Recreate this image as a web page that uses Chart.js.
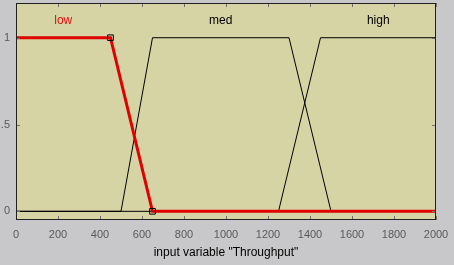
<!DOCTYPE html>
<html>
<head>
<meta charset="utf-8">
<script src="https://cdn.jsdelivr.net/npm/chart.js@4"></script>
<style>
  html, body { margin: 0; padding: 0; background: #c8c8ca; }
  #wrap { width: 454px; height: 265px; }
</style>
</head>
<body>
<div id="wrap"><canvas id="myChart" width="454" height="265"></canvas></div>
<script>
// Funzioni di appartenenza (punti x, y)
const lowX = [0, 450, 650, 2000];
const lowY = [1, 1, 0, 0];
const medX = [0, 500, 650, 1300, 1500, 2000];
const medY = [0, 0, 1, 1, 0, 0];
const highX = [0, 1250, 1450, 2000];
const highY = [0, 0, 1, 1];

// Nomi e posizione delle etichette
const mfNames = ["low", "med", "high"];
const mfLabelX = [225, 975, 1725];
const mfLabelY = 1.1;

// Tick labels
const xTicks = [0, 200, 400, 600, 800, 1000, 1200, 1400, 1600, 1800, 2000];
const yTicks = [0, 0.5, 1];
const yTickLabels = ["0", ".5", "1"];
const xTitle = 'input variable "Throughput"';

function toPoints(xs, ys) {
  return xs.map((x, i) => ({ x: x, y: ys[i] }));
}

// Plugin: sfondo area, bordo, tacche interne ed etichette
const fisPlot = {
  id: "fisPlot",
  beforeDraw(chart) {
    const { ctx, chartArea: a } = chart;
    ctx.save();
    ctx.fillStyle = "#d6d3a4";
    ctx.fillRect(a.left, a.top, a.right - a.left, a.bottom - a.top);
    ctx.restore();
  },
  afterDatasetsDraw(chart) {
    const { ctx, chartArea: a, scales } = chart;
    ctx.save();
    // tacche
    ctx.strokeStyle = "#707070";
    ctx.lineWidth = 1;
    ctx.beginPath();
    xTicks.forEach(v => {
      const px = Math.round(scales.x.getPixelForValue(v)) + 0.5;
      ctx.moveTo(px, a.bottom); ctx.lineTo(px, a.bottom - 4);
      ctx.moveTo(px, a.top); ctx.lineTo(px, a.top + 4);
    });
    yTicks.forEach(v => {
      const py = Math.round(scales.y.getPixelForValue(v)) + 0.5;
      ctx.moveTo(a.left, py); ctx.lineTo(a.left + 4, py);
      ctx.moveTo(a.right, py); ctx.lineTo(a.right - 4, py);
    });
    ctx.stroke();
    // bordo
    ctx.strokeStyle = "#202020";
    ctx.strokeRect(a.left + 0.5, a.top + 0.5, a.right - a.left - 1, a.bottom - a.top - 1);
    // etichette
    ctx.font = "12px 'Liberation Sans', Arial, sans-serif";
    ctx.textAlign = "center";
    ctx.textBaseline = "middle";
    mfNames.forEach((n, i) => {
      ctx.fillStyle = i === 0 ? "#e01010" : "#000000";
      ctx.fillText(n, scales.x.getPixelForValue(mfLabelX[i]), scales.y.getPixelForValue(mfLabelY));
    });
    ctx.restore();
  }
};

const ctx = document.getElementById("myChart");
new Chart(ctx, {
  type: "scatter",
  data: {
    datasets: [
      {
        label: "low",
        data: toPoints(lowX, lowY),
        showLine: true,
        borderColor: "#e00000",
        borderWidth: 3,
        pointStyle: "rect",
        pointRadius: [0, 4, 4, 0],
        pointBorderColor: "#000000",
        pointBackgroundColor: "rgba(0,0,0,0)",
        pointBorderWidth: 1,
      },
      {
        label: "med",
        data: toPoints(medX, medY),
        showLine: true,
        borderColor: "#000000",
        borderWidth: 1,
        pointRadius: 0,
      },
      {
        label: "high",
        data: toPoints(highX, highY),
        showLine: true,
        borderColor: "#000000",
        borderWidth: 1,
        pointRadius: 0,
      },
    ],
  },
  options: {
    responsive: false,
    animation: false,
    layout: { padding: { top: 3, right: 18, left: 0, bottom: 0 } },
    plugins: { legend: { display: false }, tooltip: { enabled: false } },
    scales: {
      x: {
        type: "linear",
        min: 0,
        max: 2000,
        afterBuildTicks: s => { s.ticks = xTicks.map(v => ({ value: v })); },
        afterFit: s => { s.height = 45; s.paddingLeft = 0; s.paddingRight = 0; },
        grid: { display: false, drawTicks: false },
        border: { display: false },
        ticks: {
          padding: 8,
          color: "#5a5a5a",
          font: { family: "'Liberation Sans', Arial, sans-serif", size: 11 },
          maxRotation: 0,
          callback: v => String(v),
        },
        title: {
          display: true,
          text: xTitle,
          color: "#000000",
          padding: { top: 2, bottom: 5 },
          font: { family: "'Liberation Sans', Arial, sans-serif", size: 12 },
        },
      },
      y: {
        type: "linear",
        min: -0.05,
        max: 1.2,
        afterBuildTicks: s => { s.ticks = yTicks.map(v => ({ value: v })); },
        afterFit: s => { s.width = 16; s.paddingTop = 0; s.paddingBottom = 0; },
        grid: { display: false, drawTicks: false },
        border: { display: false },
        ticks: {
          padding: 6,
          color: "#5a5a5a",
          font: { family: "'Liberation Sans', Arial, sans-serif", size: 11 },
          callback: v => yTickLabels[yTicks.indexOf(v)],
        },
      },
    },
  },
  plugins: [fisPlot],
});
</script>
</body>
</html>
